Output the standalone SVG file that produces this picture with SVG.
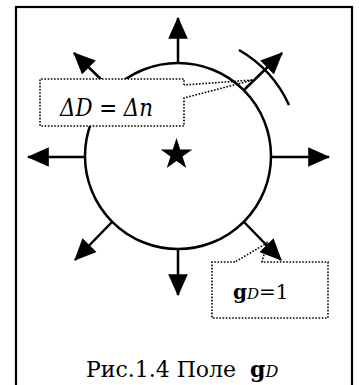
<svg xmlns="http://www.w3.org/2000/svg" width="359" height="385" viewBox="0 0 359 385">
<style>
.ln{stroke:#000;stroke-width:2.5;fill:none}
.dot{stroke:#000;stroke-width:1.6;stroke-dasharray:1.6 1.6;fill:none}
text{font-family:"DejaVu Serif",serif;fill:#000}
</style>
<defs>
<marker id="ah" markerUnits="userSpaceOnUse" markerWidth="22" markerHeight="22" viewBox="0 0 19 19" refX="18" refY="9.5" orient="auto">
<path d="M0,1 L19,9.5 L0,18 Z" fill="#000"/>
</marker>
</defs>
<rect id="frame" x="16" y="7" width="336" height="390" fill="#fff" stroke="#000" stroke-width="2.2"/>
<g id="circle"><circle cx="178" cy="156" r="93" class="ln" stroke-width="2"/></g>
<g id="star"><polygon transform="translate(176.5,154.6)" fill="#000" points="0,-16.6 3.73,-5.14 15.79,-5.13 6.04,1.96 9.76,13.43 0,6.35 -9.76,13.43 -6.04,1.96 -15.79,-5.13 -3.73,-5.14"/></g>
<g id="connectors">
<line class="ln" x1="178" y1="63" x2="178" y2="18" marker-end="url(#ah)"/>
<line class="ln" x1="86" y1="157" x2="28" y2="157" marker-end="url(#ah)"/>
<line class="ln" x1="271" y1="157" x2="329" y2="157" marker-end="url(#ah)"/>
<line class="ln" x1="112" y1="90" x2="74" y2="53" marker-end="url(#ah)"/>
<line class="ln" x1="244" y1="90" x2="282" y2="53" marker-end="url(#ah)"/>
<line class="ln" x1="112" y1="222" x2="75" y2="260" marker-end="url(#ah)"/>
<line class="ln" x1="244" y1="222" x2="281" y2="260" marker-end="url(#ah)"/>
<line class="ln" x1="178" y1="249" x2="178" y2="295" marker-end="url(#ah)"/>
<path class="ln" stroke-width="2" d="M239,50 A122,122 0 0,1 289,105"/>
</g>
<g id="callout1">
<rect x="40" y="79" width="144" height="47" fill="#fff"/>
<path class="dot" d="M184,85 L184,79 L40,79 L40,126 L184,126 L184,98 L253,80 L184,85"/>
<text x="60" y="116" font-size="25" font-style="italic" textLength="93" lengthAdjust="spacingAndGlyphs">ΔD = Δn</text>
</g>
<g id="callout2">
<rect x="212" y="262" width="116" height="56" fill="#fff"/>
<path class="dot" d="M235,262 L212,262 L212,318 L328,318 L328,262 L262,262 L267,243 L235,262"/>
<text x="233" y="299" font-size="20"><tspan font-weight="bold">g</tspan><tspan font-style="italic" font-size="15">D</tspan>=1</text>
</g>
<g id="caption">
<text y="377" font-size="22"><tspan x="86" textLength="150" lengthAdjust="spacingAndGlyphs">Рис.1.4 Поле</tspan><tspan x="250" font-weight="bold">g</tspan><tspan font-style="italic" font-size="16">D</tspan></text>
</g>
</svg>
